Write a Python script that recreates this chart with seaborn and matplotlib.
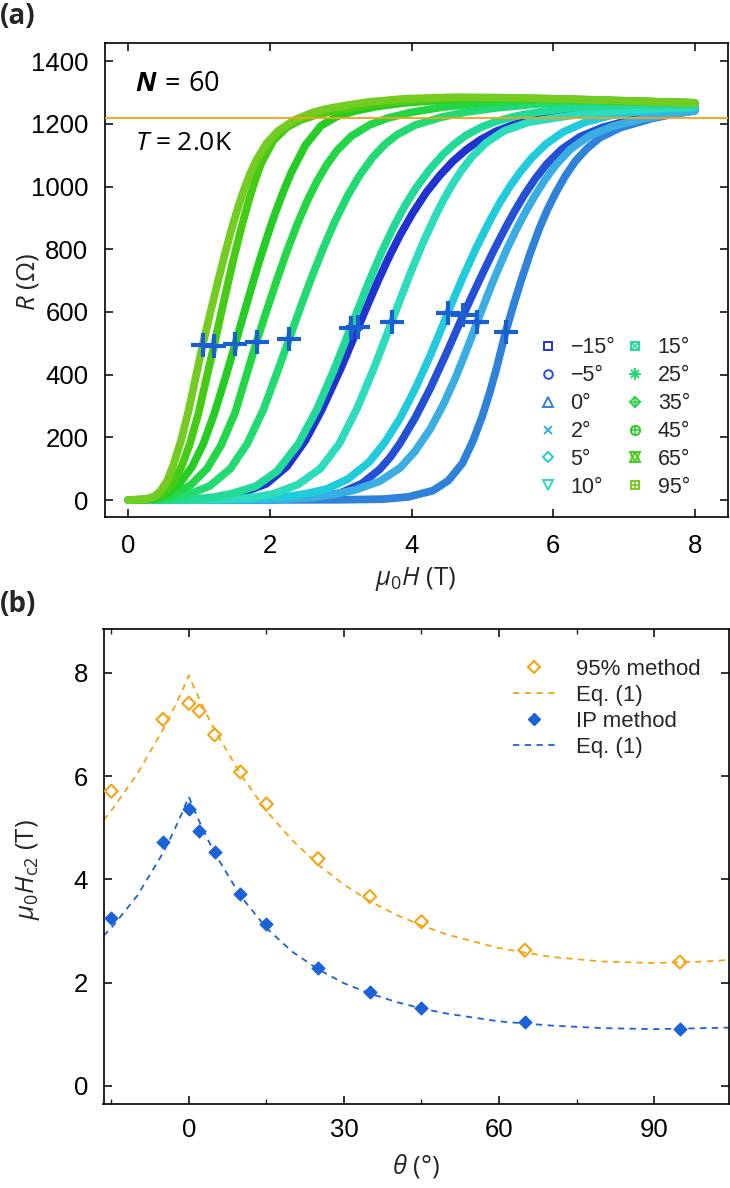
import numpy as np
import pandas as pd
import seaborn as sns
import matplotlib
matplotlib.use("Agg")
import matplotlib.pyplot as plt
from matplotlib.lines import Line2D
from matplotlib.legend_handler import HandlerTuple

# ---------------- data: panel (a) R(H) curves ----------------
angle_labels = ["−15°", "−5°", "0°", "2°", "5°", "10°", "15°", "25°", "35°", "45°", "65°", "95°"]
curve_colors = ["#2232d0", "#2450d6", "#2f82da", "#3aaee2", "#20ccdc", "#2cdcbc",
                "#22da98", "#22da72", "#22d646", "#24cc24", "#46cc14", "#74cc22"]

H_m15 = [0, 0.85, 1.15, 1.38, 1.60, 1.95, 2.24, 2.50, 2.73, 3.00, 3.25, 3.39, 3.53, 3.69, 3.84,
         4.02, 4.21, 4.40, 4.59, 4.78, 4.97, 5.20, 5.45, 5.71, 6.10, 6.50, 7.20, 8.00]
R_m15 = [0, 1, 5, 11, 22, 52, 107, 190, 287, 419, 553, 628, 701, 779, 846,
         917, 982, 1036, 1082, 1119, 1149, 1177, 1198, 1214, 1230, 1240, 1248, 1250]
H_m5 = [0, 1.90, 2.40, 2.70, 3.00, 3.30, 3.55, 3.70, 3.84, 4.05, 4.26, 4.50, 4.73, 4.85, 4.97,
        5.15, 5.33, 5.47, 5.60, 5.75, 5.91, 6.12, 6.38, 6.70, 7.10, 7.50, 8.00]
R_m5 = [0, 1, 5, 11, 23, 53, 98, 137, 182, 262, 354, 472, 590, 649, 707,
        791, 870, 927, 976, 1026, 1072, 1119, 1159, 1189, 1213, 1228, 1242]
H_0 = [0, 3.00, 3.60, 3.95, 4.30, 4.52, 4.72, 4.87, 5.00, 5.10, 5.20, 5.33, 5.44, 5.55, 5.68,
       5.81, 5.92, 6.03, 6.17, 6.31, 6.48, 6.66, 6.95, 7.41, 7.70, 8.00]
R_0 = [0, 1, 3, 10, 30, 62, 118, 190, 268, 340, 420, 537, 622, 702, 790,
       869, 927, 977, 1033, 1080, 1122, 1156, 1188, 1218, 1231, 1242]
H_2 = [0, 2.10, 2.60, 2.90, 3.20, 3.55, 3.84, 4.05, 4.26, 4.45, 4.62, 4.78, 4.93, 5.06, 5.20,
       5.35, 5.50, 5.63, 5.75, 5.90, 6.05, 6.25, 6.52, 6.85, 7.26, 7.60, 8.00]
R_2 = [0, 1, 8, 18, 32, 60, 103, 156, 225, 305, 390, 480, 569, 646, 724,
       802, 872, 927, 974, 1027, 1072, 1120, 1163, 1193, 1216, 1229, 1241]
H_5 = [0, 1.70, 2.20, 2.50, 2.80, 3.10, 3.40, 3.62, 3.84, 4.05, 4.26, 4.39, 4.51, 4.61, 4.71,
       4.91, 5.11, 5.25, 5.40, 5.55, 5.70, 5.90, 6.14, 6.45, 6.80, 7.20, 7.60, 8.00]
R_5 = [0, 2, 10, 20, 35, 67, 121, 183, 262, 354, 459, 529, 596, 650, 703,
       803, 893, 950, 1004, 1051, 1092, 1136, 1174, 1205, 1226, 1239, 1247, 1252]
H_10 = [0, 1.10, 1.50, 1.78, 2.05, 2.40, 2.71, 2.98, 3.23, 3.48, 3.72, 3.86, 4.00, 4.17, 4.34,
        4.46, 4.58, 4.71, 4.85, 5.05, 5.30, 5.65, 6.08, 6.50, 7.00, 8.00]
R_10 = [0, 1, 4, 9, 20, 50, 100, 180, 292, 427, 569, 652, 733, 825, 908,
        961, 1008, 1053, 1094, 1139, 1177, 1205, 1221, 1234, 1244, 1255]
H_15 = [0, 0.70, 1.00, 1.22, 1.45, 1.80, 2.10, 2.40, 2.66, 2.90, 3.14, 3.28, 3.41, 3.58, 3.75,
        3.91, 4.07, 4.26, 4.45, 4.61, 4.78, 5.00, 5.20, 5.46, 5.80, 6.20, 6.70, 7.30, 8.00]
R_15 = [0, 1, 5, 10, 20, 44, 92, 179, 288, 413, 550, 630, 703, 792, 873,
        940, 998, 1056, 1104, 1137, 1165, 1191, 1208, 1224, 1238, 1250, 1257, 1261, 1262]
H_25 = [0, 0.40, 0.60, 0.72, 0.85, 1.15, 1.44, 1.68, 1.91, 2.10, 2.27, 2.43, 2.58, 2.75, 2.92,
        3.10, 3.27, 3.45, 3.62, 3.80, 4.05, 4.40, 4.75, 5.20, 5.80, 6.60, 8.00]
R_25 = [0, 1.5, 5, 10, 18, 45, 100, 180, 290, 406, 513, 614, 705, 802, 890,
        972, 1037, 1093, 1134, 1166, 1196, 1220, 1237, 1251, 1264, 1272, 1266]
H_35 = [0, 0.30, 0.45, 0.55, 0.65, 0.88, 1.11, 1.31, 1.51, 1.67, 1.81, 1.96, 2.10, 2.24, 2.38,
        2.52, 2.66, 2.80, 2.95, 3.15, 3.41, 3.67, 4.00, 4.40, 5.00, 5.80, 7.00, 8.00]
R_35 = [0, 2, 6, 12, 20, 48, 100, 175, 280, 400, 505, 609, 704, 794, 877,
        951, 1015, 1069, 1116, 1161, 1197, 1219, 1237, 1252, 1268, 1277, 1273, 1267]
H_45 = [0, 0.25, 0.35, 0.45, 0.55, 0.72, 0.90, 1.06, 1.22, 1.37, 1.51, 1.64, 1.77, 1.86, 1.94,
        2.02, 2.09, 2.20, 2.30, 2.50, 2.72, 2.95, 3.20, 3.50, 3.90, 4.50, 5.30, 6.50, 8.00]
R_45 = [0, 2, 5, 11, 22, 52, 106, 180, 280, 390, 498, 601, 702, 769, 826,
        880, 925, 990, 1044, 1132, 1194, 1224, 1241, 1255, 1267, 1277, 1282, 1277, 1267]
H_65 = [0, 0.22, 0.32, 0.41, 0.50, 0.62, 0.75, 0.87, 0.99, 1.10, 1.21, 1.31, 1.41, 1.48, 1.55,
        1.63, 1.71, 1.79, 1.88, 2.05, 2.24, 2.43, 2.63, 2.85, 3.10, 3.40, 3.70, 4.20, 5.00, 6.00,
        7.00, 8.00]
R_65 = [0, 2, 5, 11, 22, 52, 106, 180, 277, 385, 492, 595, 695, 763, 828,
        898, 962, 1020, 1076, 1147, 1189, 1212, 1227, 1239, 1249, 1260, 1268, 1277, 1283, 1280,
        1273, 1267]
H_95 = [0, 0.20, 0.30, 0.38, 0.45, 0.55, 0.64, 0.75, 0.85, 0.95, 1.05, 1.16, 1.27, 1.36, 1.45,
        1.54, 1.62, 1.71, 1.80, 1.95, 2.11, 2.35, 2.60, 2.80, 3.10, 3.40, 3.90, 4.60, 5.50, 6.80,
        8.00]
R_95 = [0, 2, 6, 14, 28, 62, 115, 195, 285, 390, 495, 600, 702, 782, 858,
        927, 982, 1036, 1081, 1137, 1177, 1213, 1236, 1248, 1260, 1270, 1280, 1285, 1283, 1275,
        1266]

# inflection points (blue crosses), same order as angle_labels
IP_H = [3.25, 4.73, 5.33, 4.93, 4.51, 3.72, 3.14, 2.27, 1.81, 1.51, 1.21, 1.05]
IP_R = [553, 590, 537, 569, 596, 569, 550, 513, 505, 498, 492, 495]
R95_level = 1220

# ---------------- data: panel (b) ----------------
theta = [-15, -5, 0, 2, 5, 10, 15, 25, 35, 45, 65, 95]
Hc2_95 = [5.71, 7.10, 7.41, 7.26, 6.80, 6.08, 5.46, 4.40, 3.67, 3.18, 2.63, 2.40]
Hc2_IP = [3.25, 4.72, 5.36, 4.94, 4.53, 3.72, 3.14, 2.28, 1.82, 1.51, 1.24, 1.10]
fit_theta = [-16.5, -15, -10, -5, -3.5, -2, -1, 0, 1, 2, 3.5, 5, 10, 15, 20, 25, 30, 35, 40,
             45, 50, 60, 70, 80, 90, 100, 104.5]
fit_95 = [5.15, 5.33, 6.04, 6.90, 7.19, 7.50, 7.72, 7.95, 7.72, 7.50, 7.19, 6.90, 6.04, 5.33, 4.76,
          4.29, 3.90, 3.58, 3.32, 3.11, 2.93, 2.67, 2.50, 2.41, 2.38, 2.41, 2.44]
fit_IP = [2.91, 3.06, 3.68, 4.51, 4.81, 5.13, 5.36, 5.60, 5.36, 5.13, 4.81, 4.51, 3.68, 3.06, 2.60,
          2.26, 1.99, 1.79, 1.63, 1.50, 1.40, 1.25, 1.17, 1.12, 1.10, 1.12, 1.13]

ORANGE = "#f5a312"
BLUE = "#1a62d8"
CROSS = "#1a5fd2"

# ---------------- style ----------------
sns.set_theme(style="white")
plt.rcParams["font.family"] = ["Liberation Sans", "DejaVu Sans"]
plt.rcParams["mathtext.fontset"] = "custom"
plt.rcParams["mathtext.rm"] = "Open Sans"
plt.rcParams["mathtext.it"] = "Open Sans:italic"
plt.rcParams["mathtext.bf"] = "Open Sans:bold"
plt.rcParams["mathtext.bfit"] = "Open Sans:italic:bold"

W, Hpx = 730, 1188
fig = plt.figure(figsize=(W / 100, Hpx / 100), dpi=100)

def fx(px):
    return px / W

def fy(py):
    return 1 - py / Hpx

ax1 = fig.add_axes([fx(105), fy(517), fx(728) - fx(105), fy(43) - fy(517)])
ax2 = fig.add_axes([fx(103.5), fy(1104), fx(729) - fx(103.5), fy(629) - fy(1104)])

# ---------------- panel (a) ----------------
curves = [(H_m15, R_m15), (H_m5, R_m5), (H_0, R_0), (H_2, R_2), (H_5, R_5), (H_10, R_10),
          (H_15, R_15), (H_25, R_25), (H_35, R_35), (H_45, R_45), (H_65, R_65), (H_95, R_95)]
for (hh, rr), c in zip(curves, curve_colors):
    sns.lineplot(x=hh, y=rr, ax=ax1, color=c, lw=5.6, sort=False, estimator=None,
                 legend=False, solid_capstyle="round", solid_joinstyle="round")

ax1.axhline(R95_level, color=ORANGE, lw=1.3, zorder=5)
sns.scatterplot(x=IP_H, y=IP_R, ax=ax1, marker="+", s=300, color=CROSS, linewidth=3.0,
                zorder=6, legend=False)

ax1.set_xlim(-0.33, 8.47)
ax1.set_ylim(-54, 1458)
ax1.set_xticks([0, 2, 4, 6, 8])
ax1.set_yticks(range(0, 1401, 200))
ax1.set_xlabel("")
ax1.set_ylabel("")

# legend (a)
mk = dict(linestyle="none", markerfacecolor="none", markeredgewidth=1.4)
def L(marker, c, ms, **kw):
    d = dict(mk)
    d.update(kw)
    return Line2D([], [], marker=marker, color=c, markeredgecolor=c, markersize=ms, **d)

handles = [
    L("s", curve_colors[0], 5.5),
    L("o", curve_colors[1], 6.2),
    L("^", curve_colors[2], 6.8),
    L("x", curve_colors[3], 6.0),
    L("D", curve_colors[4], 5.0),
    L("v", curve_colors[5], 6.8),
    (L("s", curve_colors[6], 6.0), L("x", curve_colors[6], 4.0, markeredgewidth=1.1)),
    (L("+", curve_colors[7], 8.0), L("x", curve_colors[7], 6.0)),
    (L("D", curve_colors[8], 5.6), L("+", curve_colors[8], 8.0, markeredgewidth=1.1)),
    (L("o", curve_colors[9], 6.6), L("+", curve_colors[9], 6.6, markeredgewidth=1.1)),
    (L("^", curve_colors[10], 7.0), L("v", curve_colors[10], 7.0)),
    (L("s", curve_colors[11], 6.0), L("+", curve_colors[11], 6.0, markeredgewidth=1.1)),
]
ax1.legend(handles, angle_labels, ncol=2, loc="upper left",
           bbox_to_anchor=(0.680, 0.397), frameon=False, fontsize=15.5,
           handlelength=1.0, handletextpad=0.55, columnspacing=0.42,
           labelspacing=0.32, borderaxespad=0,
           handler_map={tuple: HandlerTuple(ndivide=1, pad=0)})

ax1.text((135 - 105) / (728 - 105), (517 - 84) / (517 - 43),
         r"$\mathbfit{N}\,=\,60$", transform=ax1.transAxes, fontsize=19.5,
         ha="left", va="center", color="black")
ax1.text((135 - 105) / (728 - 105), (517 - 144) / (517 - 43),
         r"$T$ = 2.0K", transform=ax1.transAxes, fontsize=19, family="Open Sans",
         ha="left", va="center", color="black")

# ---------------- panel (b) ----------------
sns.lineplot(x=fit_theta, y=fit_95, ax=ax2, color=ORANGE, lw=1.3, sort=False,
             estimator=None, legend=False, linestyle=(0, (3.5, 3.0)))
sns.lineplot(x=fit_theta, y=fit_IP, ax=ax2, color=BLUE, lw=1.3, sort=False,
             estimator=None, legend=False, linestyle=(0, (3.5, 3.0)))
sns.scatterplot(x=theta, y=Hc2_95, ax=ax2, marker="D", s=44, legend=False, zorder=4,
                facecolor="none", edgecolor=ORANGE, linewidth=1.5)
coll = ax2.collections[-1]
coll.set_facecolor("none")
coll.set_edgecolor(ORANGE)
sns.scatterplot(x=theta, y=Hc2_IP, ax=ax2, marker="D", s=44, legend=False, zorder=4,
                color=BLUE, edgecolor=BLUE, linewidth=0.8)

ax2.set_xlim(-16.5, 104.5)
ax2.set_ylim(-0.35, 8.85)
ax2.set_xticks([0, 30, 60, 90])
ax2.set_xticks([-15, 15, 45, 75], minor=True)
ax2.set_yticks([0, 2, 4, 6, 8])
ax2.set_xlabel("")
ax2.set_ylabel("")

h2 = [Line2D([], [], linestyle="none", marker="D", markersize=6.6, markerfacecolor="none",
             markeredgecolor=ORANGE, markeredgewidth=1.5),
      Line2D([], [], color=ORANGE, lw=1.3, linestyle=(0, (3.5, 3.0))),
      Line2D([], [], linestyle="none", marker="D", markersize=5.8, markerfacecolor=BLUE,
             markeredgecolor=BLUE),
      Line2D([], [], color=BLUE, lw=1.3, linestyle=(0, (3.5, 3.0)))]
ax2.legend(h2, ["95% method", "Eq. (1)", "IP method", "Eq. (1)"], loc="upper left",
           bbox_to_anchor=(0.64, 0.955), frameon=False, fontsize=16,
           handlelength=1.95, handletextpad=0.9, labelspacing=0.22, borderaxespad=0)

# ---------------- common axis styling ----------------
for ax in (ax1, ax2):
    for sp in ax.spines.values():
        sp.set_visible(True)
        sp.set_color("black")
        sp.set_linewidth(1.2)
    ax.tick_params(axis="both", which="major", direction="in", length=5.5, width=1.1,
                   top=True, right=True, bottom=True, left=True, labelsize=18.5,
                   colors="black")
    ax.tick_params(axis="both", which="minor", direction="in", length=3.5, width=1.0,
                   top=True, bottom=True)
    ax.grid(False)
    ax.set_facecolor("white")

ax1.tick_params(axis="y", pad=12)
ax1.tick_params(axis="x", pad=12)
ax2.tick_params(axis="y", pad=11)
ax2.tick_params(axis="x", pad=10)

# axis labels
fig.text(fx(28), fy(282), r"$R$ (Ω)", rotation=90, ha="center", va="center",
         fontsize=18.5, family="Open Sans")
fig.text(fx(416), fy(579), r"$\mu_0H$ (T)", ha="center", va="center",
         fontsize=18.5, family="Open Sans")
fig.text(fx(28), fy(870), r"$\mu_0H_{\rm c2}$ (T)", rotation=90, ha="center", va="center",
         fontsize=18.5, family="Open Sans")
fig.text(fx(416), fy(1166), r"$\theta$ (°)", ha="center", va="center",
         fontsize=18.5, family="Open Sans")

# panel letters
fig.text(fx(0), fy(16), "(a)", ha="left", va="center", fontsize=20, fontweight="bold",
         family="Open Sans")
fig.text(fx(0), fy(604), "(b)", ha="left", va="center", fontsize=20, fontweight="bold",
         family="Open Sans")

fig.savefig("out.png", dpi=100, facecolor="white")
